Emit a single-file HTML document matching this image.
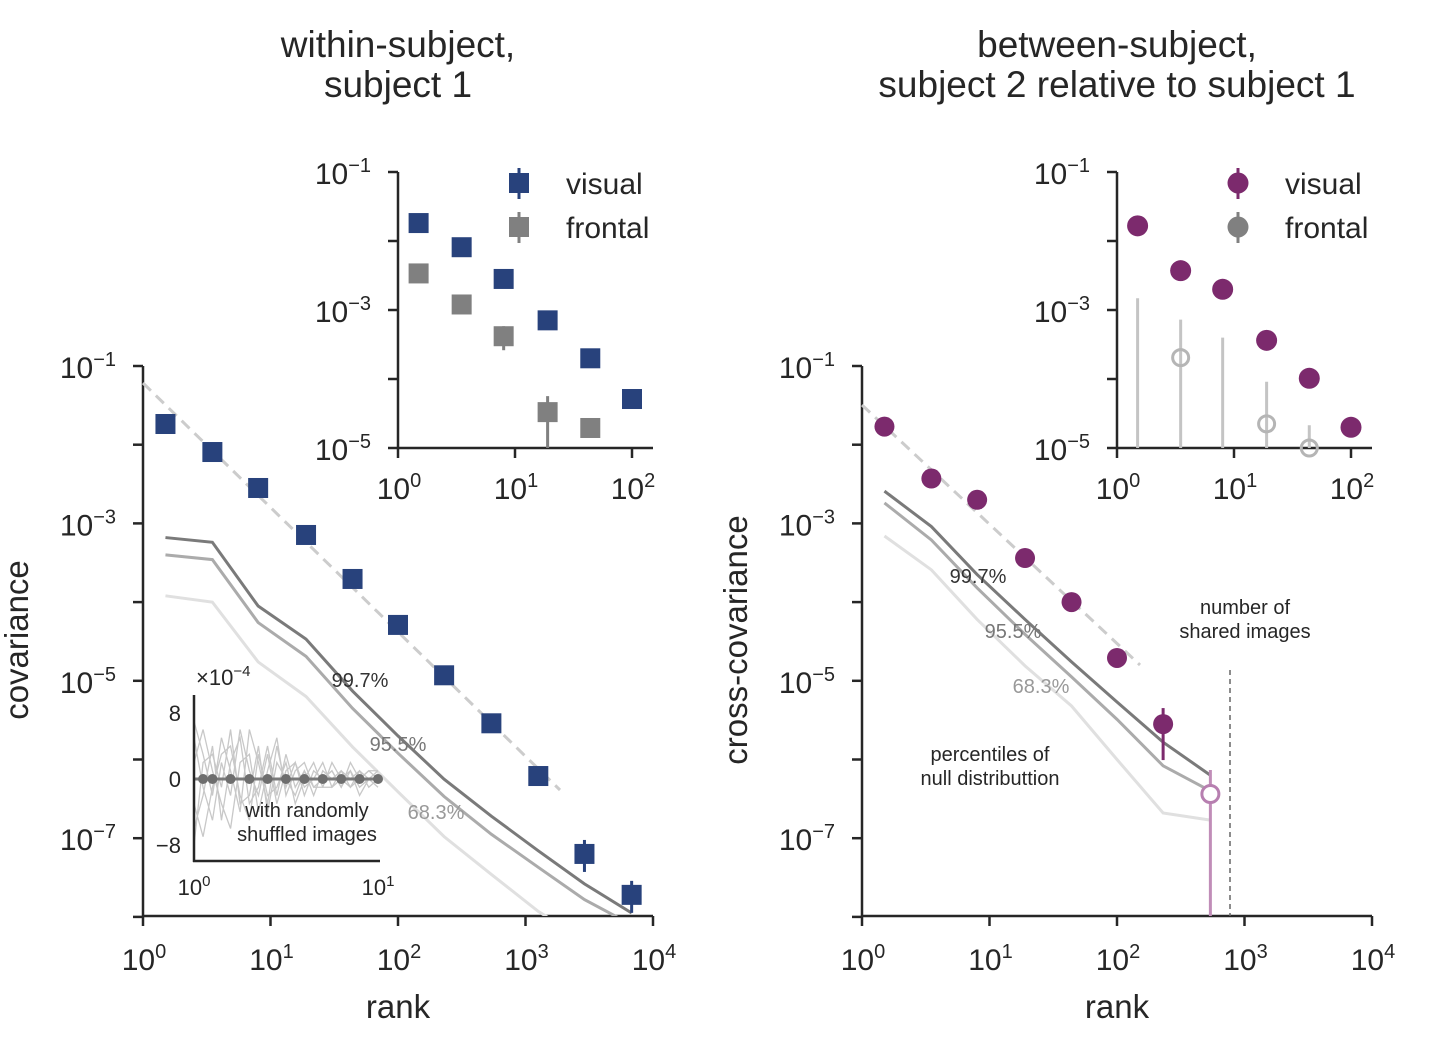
<!DOCTYPE html>
<html><head><meta charset="utf-8"><style>
body{margin:0;background:#fff}
svg{display:block;font-family:"Liberation Sans",Arial,sans-serif}
</style></head><body>
<svg id="c" width="1431" height="1051" viewBox="0 0 1431 1051"></svg>
<script>
// ---- data ----
const ranksMain = [1.5,3.5,8,19,44,100,230,540,1260,2900,6800];
const visualCovL = [-1.737,-2.093,-2.55,-3.147,-3.706,-4.29,-4.93,-5.54,-6.21,-7.2,-7.72]; // log10
const nullL997 = [-3.18,-3.24,-4.05,-4.47,-5.13,-5.70,-6.25,-6.72,-7.16,-7.58,-7.95];
const nullL955 = [-3.40,-3.46,-4.26,-4.69,-5.35,-5.92,-6.47,-6.95,-7.37,-7.78,-8.1];
const nullL683 = [-3.92,-4.0,-4.76,-5.20,-5.84,-6.41,-6.98,-7.46,-7.93,-8.3,-8.6];
const ranksR = [1.5,3.5,8,19,44,100,230,540];
const visualCovR = [-1.77,-2.43,-2.70,-3.44,-4.0,-4.71,-5.55];
const nullR997 = [-2.59,-3.04,-3.65,-4.22,-4.76,-5.27,-5.78,-6.20];
const nullR955 = [-2.74,-3.21,-3.82,-4.41,-4.95,-5.49,-6.08,-6.40];
const nullR683 = [-3.16,-3.59,-4.22,-4.81,-5.32,-6.0,-6.68,-6.77];
const insetRanks = [1.5,3.5,8,19,44,100];
const insetVisL = [-1.74,-2.09,-2.55,-3.15,-3.70,-4.29];
const insetFroL = [-2.47,-2.92,-3.38,-4.48,-4.71];
const insetVisR = [-1.78,-2.43,-2.70,-3.44,-3.99,-4.70];
const insetFroRtop = [-2.83,-3.14,-3.40,-4.04,-4.67];
const insetFroRpt = [null,-3.69,null,-4.65,-5.0];
const shufX = [1,1.12,1.26,1.41,1.58,1.78,2,2.24,2.51,2.82,3.16,3.55,3.98,4.47,5.01,5.62,6.31,7.08,7.94,8.91,10];
const shufMean = [0,0,0,0,0,0,0,0,0,0,0,0,0,0,0,0,0,0,0,0,0];
const shufA = [7,3,-2,5,1,-4,6,2,-3,4,-1,2,-2,1,0,1,-1,2,0,1,0];
const shufB = [-6,-2,4,-5,2,5,-3,-1,4,-2,3,-1,1,-2,1,0,1,-1,1,0,1];
const shufC = [2,6,1,-3,-6,2,3,-4,1,5,-2,1,2,-1,-1,2,0,1,-2,0,-1];
const shufD = [-3,-7,-1,3,4,-2,-5,3,-2,-1,2,-3,0,2,-1,-1,1,0,1,-1,0];
const shufE = [5,-1,-5,2,-2,6,1,-2,3,-3,1,2,-1,0,2,-1,0,-1,0,1,1];
const shufF = [-8,2,3,-1,6,-3,-2,4,-4,2,0,-2,1,-1,0,1,-1,1,-1,0,0];
const shufDots = [1.12,1.26,1.58,2,2.51,3.16,3.98,5.01,6.31,7.94,10];

const NS="http://www.w3.org/2000/svg", svg=document.getElementById('c');
function el(t,a,name,parent){const e=document.createElementNS(NS,t);for(const k in a)e.setAttribute(k,a[k]);
 
 
 (parent||svg).appendChild(e);return e;}
function txt(x,y,s,size,name,opts){opts=opts||{};const e=el('text',{x:x,y:y,'font-size':size,fill:opts.fill||'#262626','text-anchor':opts.anchor||'middle'},name);e.innerHTML=s;if(opts.rot)e.setAttribute('transform',`rotate(-90 ${x} ${y})`);return e;}
function logAx(x0,px,y0,py){return{X:r=>x0+Math.log10(r)*px,Y:l=>y0-l*py};}
const BLUE='#28427c',PURP='#7c2a6d',GRAY='#808080';
function sup(b,e){return `${b}<tspan dy="-12" font-size="20">${e}</tspan>`;}
const L=logAx(143,127.5,366-78.7,78.7);
const R=logAx(862,127.5,366-78.7,78.7);
function mainAxes(A,x0,name,ylabel,ylx){
 el('line',{x1:x0,y1:366,x2:x0,y2:917,stroke:'#262626','stroke-width':2.5},name+'-y-axis');
 el('line',{x1:x0-1,y1:916,x2:x0+510,y2:916,stroke:'#262626','stroke-width':2.5},name+'-x-axis');
 for(let e=0;e<=4;e++){const x=A.X(Math.pow(10,e));el('line',{x1:x,y1:916,x2:x,y2:926,stroke:'#262626','stroke-width':2.5},name+'-x-tick');
  txt(x+1,970,sup('10',e),30,name+'-x-tick-label');}
 for(let e=-1;e>=-8;e--){const y=A.Y(e);el('line',{x1:x0-10,y1:y,x2:x0,y2:y,stroke:'#262626','stroke-width':2.5},name+'-y-tick');
  if(e%2!==0) txt(x0-27,y+12,sup('10','−'+(-e)),30,name+'-y-tick-label',{anchor:'end'});}
 txt(x0+255,1018,'rank',33,name+'-x-title');
 txt(ylx,640,ylabel,33,name+'-y-title',{rot:1});
}
mainAxes(L,143,'left','covariance',28);
mainAxes(R,862,'right','cross-covariance',747);
txt(398,57,'within-subject,',37,'left-title');txt(398,97,'subject 1',37,'left-title-2');
txt(1117,57,'between-subject,',37,'right-title');txt(1117,97,'subject 2 relative to subject 1',37,'right-title-2');
function clipRect(id,x,y,w,h){const c=el('clipPath',{id:id},'clip');el('rect',{x:x,y:y,width:w,height:h},'clip-rect',c);}
clipRect('cl',143,300,520,616);clipRect('cr',862,300,520,616);
function poly(A,xs,ys,col,w,name,clip,dash){const p=xs.slice(0,ys.length).map((r,i)=>A.X(r)+','+A.Y(ys[i])).join(' ');
 const a={points:p,fill:'none',stroke:col,'stroke-width':w};if(clip)a['clip-path']=`url(#${clip})`;if(dash)a['stroke-dasharray']=dash;return el('polyline',a,name);}
poly(L,ranksMain,nullL683,'#e0e0e0',3,'null-68-left','cl');
poly(L,ranksMain,nullL955,'#ababab',3,'null-95-left','cl');
poly(L,ranksMain,nullL997,'#7a7a7a',3,'null-99-left','cl');
el('line',{x1:143,y1:383,x2:560,y2:790,stroke:'#cccccc','stroke-width':3,'stroke-dasharray':'11,7'},'fit-line-left');
txt(360,687,'99.7%',20,'label-99-left',{fill:'#333'});
txt(398,751,'95.5%',20,'label-95-left',{fill:'#777'});
txt(436,819,'68.3%',20,'label-68-left',{fill:'#999'});
ranksMain.forEach((r,i)=>{const x=L.X(r),y=L.Y(visualCovL[i]);
 if(i>=9)el('line',{x1:x,y1:y-14,x2:x,y2:y+18,stroke:BLUE,'stroke-width':3},'error-bar');
 el('rect',{x:x-10,y:y-10,width:20,height:20,fill:BLUE},'visual-square-left');});
poly(R,ranksR,nullR683,'#e0e0e0',3,'null-68-right','cr');
poly(R,ranksR,nullR955,'#ababab',3,'null-95-right','cr');
poly(R,ranksR,nullR997,'#7a7a7a',3,'null-99-right','cr');
el('line',{x1:862,y1:405,x2:1140,y2:665,stroke:'#cccccc','stroke-width':3,'stroke-dasharray':'11,7'},'fit-line-right');
txt(978,583,'99.7%',20,'label-99-right',{fill:'#333'});
txt(1013,638,'95.5%',20,'label-95-right',{fill:'#777'});
txt(1041,693,'68.3%',20,'label-68-right',{fill:'#999'});
txt(990,761,'percentiles of',20,'annot-percentiles');txt(990,785,'null distributtion',20,'annot-null');
txt(1245,614,'number of',20,'annot-number');txt(1245,638,'shared images',20,'annot-shared');
el('line',{x1:1230,y1:670,x2:1230,y2:916,stroke:'#666','stroke-width':1.5,'stroke-dasharray':'5,4'},'shared-images-line');
visualCovR.forEach((v,i)=>{const x=R.X(ranksR[i]),y=R.Y(v);
 if(i===6)el('line',{x1:x,y1:y-16,x2:x,y2:y+36,stroke:PURP,'stroke-width':3},'error-bar');
 el('circle',{cx:x,cy:y,r:10,fill:PURP},'visual-dot-right');});
{const x=R.X(ranksR[7]);el('line',{x1:x,y1:770,x2:x,y2:916,stroke:'#c08db8','stroke-width':3},'error-bar-last');
 el('circle',{cx:x,cy:794,r:8.5,fill:'#fff',stroke:'#b77fb0','stroke-width':3},'visual-open-dot-right');}
function inset(x0,name){const A=logAx(x0,117,172-69,69);
 el('line',{x1:x0,y1:172,x2:x0,y2:449,stroke:'#262626','stroke-width':2.5},name+'-y-axis');
 el('line',{x1:x0-1,y1:448,x2:x0+255,y2:448,stroke:'#262626','stroke-width':2.5},name+'-x-axis');
 for(let e=0;e<=2;e++){const x=A.X(Math.pow(10,e));el('line',{x1:x,y1:448,x2:x,y2:458,stroke:'#262626','stroke-width':2.5},name+'-x-tick');txt(x+1,499,sup('10',e),30,name+'-x-tick-label');}
 for(let e=-1;e>=-5;e--){const y=A.Y(e);el('line',{x1:x0-10,y1:y,x2:x0,y2:y,stroke:'#262626','stroke-width':2.5},name+'-y-tick');
  if(e%2!==0)txt(x0-27,y+12,sup('10','−'+(-e)),30,name+'-y-tick-label',{anchor:'end'});}
 return A;}
const IL=inset(398,'inset-left'),IR=inset(1117,'inset-right');
insetVisL.forEach((v,i)=>{const x=IL.X(insetRanks[i]),y=IL.Y(v);el('rect',{x:x-10,y:y-10,width:20,height:20,fill:BLUE},'inset-visual-square');});
insetFroL.forEach((v,i)=>{const x=IL.X(insetRanks[i]),y=IL.Y(v);
 if(i===2)el('line',{x1:x,y1:y-10,x2:x,y2:y+14,stroke:GRAY,'stroke-width':3},'error-bar');
 if(i===3)el('line',{x1:x,y1:y-16,x2:x,y2:448,stroke:GRAY,'stroke-width':3},'error-bar');
 el('rect',{x:x-10,y:y-10,width:20,height:20,fill:GRAY},'inset-frontal-square');});
insetFroRtop.forEach((v,i)=>{const x=IR.X(insetRanks[i]);el('line',{x1:x,y1:IR.Y(v),x2:x,y2:448,stroke:'#c4c4c4','stroke-width':3},'inset-frontal-bar');
 if(insetFroRpt[i]!==null)el('circle',{cx:x,cy:IR.Y(insetFroRpt[i]),r:8,fill:'none',stroke:'#b5b5b5','stroke-width':3},'inset-frontal-open-dot');});
insetVisR.forEach((v,i)=>{el('circle',{cx:IR.X(insetRanks[i]),cy:IR.Y(v),r:10.5,fill:PURP},'inset-visual-dot');});
el('line',{x1:519,y1:168,x2:519,y2:199,stroke:BLUE,'stroke-width':3},'legend-visual-bar');el('rect',{x:509,y:173,width:20,height:20,fill:BLUE},'legend-visual-marker');
txt(566,194,'visual',30,'legend-visual-label',{anchor:'start'});
el('line',{x1:519,y1:212,x2:519,y2:243,stroke:GRAY,'stroke-width':3},'legend-frontal-bar');el('rect',{x:509,y:217,width:20,height:20,fill:GRAY},'legend-frontal-marker');
txt(566,238,'frontal',30,'legend-frontal-label',{anchor:'start'});
el('line',{x1:1238,y1:168,x2:1238,y2:199,stroke:PURP,'stroke-width':3},'legend-visual-bar-r');el('circle',{cx:1238,cy:183,r:10.5,fill:PURP},'legend-visual-marker-r');
txt(1285,194,'visual',30,'legend-visual-label-r',{anchor:'start'});
el('line',{x1:1238,y1:212,x2:1238,y2:243,stroke:GRAY,'stroke-width':3},'legend-frontal-bar-r');el('circle',{cx:1238,cy:227,r:10.5,fill:GRAY},'legend-frontal-marker-r');
txt(1285,238,'frontal',30,'legend-frontal-label-r',{anchor:'start'});
const S={X:r=>194+Math.log10(r)*184,Y:v=>779-v*8.25};
[shufA,shufB,shufC,shufD,shufE,shufF].forEach(arr=>{el('polyline',{points:shufX.map((r,i)=>S.X(r)+','+S.Y(arr[i])).join(' '),fill:'none',stroke:'#c8c8c8','stroke-width':1.3},'shuffle-line');});
el('polyline',{points:shufX.map((r,i)=>S.X(r)+','+S.Y(shufMean[i])).join(' '),fill:'none',stroke:'#7a7a7a','stroke-width':3},'shuffle-mean-line');
shufDots.forEach(r=>el('circle',{cx:S.X(r),cy:S.Y(0),r:5,fill:'#6e6e6e'},'shuffle-mean-dot'));
el('line',{x1:194,y1:695,x2:194,y2:862,stroke:'#262626','stroke-width':2.5},'shuffle-y-axis');
el('line',{x1:193,y1:861,x2:380,y2:861,stroke:'#262626','stroke-width':2.5},'shuffle-x-axis');
[8,0,-8].forEach(v=>txt(181,S.Y(v)+8,v<0?'−8':String(v),22,'shuffle-y-tick-label',{anchor:'end'}));
txt(194,895,'10<tspan dy="-9" font-size="15">0</tspan>',22,'shuffle-x-tick-label');
txt(378,895,'10<tspan dy="-9" font-size="15">1</tspan>',22,'shuffle-x-tick-label');
txt(196,685,'×10<tspan dy="-9" font-size="15">−4</tspan>',22,'shuffle-scale-label',{anchor:'start'});
txt(307,817,'with randomly',20,'shuffle-annot-1');txt(307,841,'shuffled images',20,'shuffle-annot-2');
</script>
</body></html>
